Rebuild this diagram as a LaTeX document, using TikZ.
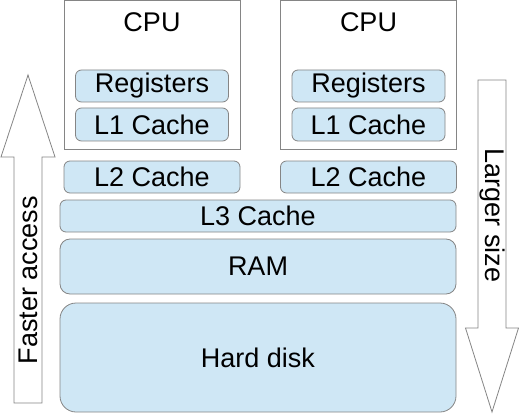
\documentclass[tikz,border=0pt]{standalone}
\usepackage{fontspec}
\setmainfont{Liberation Sans}
\usepackage{tikz}
\usetikzlibrary{positioning}
\definecolor{cachefill}{HTML}{CFE7F5}
\definecolor{edge}{HTML}{858585}
\definecolor{ink}{HTML}{000000}
\tikzset{
  level/.style  ={draw=edge, fill=cachefill, line width=0.8pt, rounded corners=6pt,
                  inner sep=0pt, outer sep=0pt, text=ink,
                  font=\fontsize{27}{30}\selectfont},
  cpubox/.style ={draw=edge, fill=white, line width=0.8pt, inner sep=0pt, outer sep=0pt,
                  minimum width=176pt, minimum height=149pt},
  bigarrow/.style={draw=edge, fill=white, line width=0.8pt, line join=miter},
  side/.style   ={font=\fontsize{27}{30}\selectfont, text=ink, inner sep=0pt}
}
\begin{document}
\begin{tikzpicture}[x=1pt, y=1pt]
  \useasboundingbox (0,0) rectangle (519,413);
  % the two cores
  \node[cpubox]                      (cpuA) at (152,338.5) {};
  \node[cpubox, right=40.5pt of cpuA] (cpuB) {};
  \node[side, below=12pt of cpuA.north] (cpuAname) {CPU};
  \node[side, below=12pt of cpuB.north] (cpuBname) {CPU};
  \node[level, minimum width=153pt, minimum height=32pt, below=70pt of cpuA.north] (regA) {Registers};
  \node[level, minimum width=153pt, minimum height=33pt, below=6pt of regA]         (l1A)  {L1 Cache};
  \node[level, minimum width=153pt, minimum height=32pt, below=70pt of cpuB.north] (regB) {Registers};
  \node[level, minimum width=153pt, minimum height=33pt, below=6pt of regB]         (l1B)  {L1 Cache};
  \node[level, minimum width=176pt, minimum height=32pt, below=12pt of cpuA]        (l2A)  {L2 Cache};
  \node[level, minimum width=176pt, minimum height=32pt, below=12pt of cpuB]        (l2B)  {L2 Cache};
  % shared levels
  \node[level, minimum width=396pt, minimum height=32pt] (l3) at (258,197) {L3 Cache};
  \node[level, minimum width=396pt, minimum height=55pt, rounded corners=10pt, below=7pt of l3]  (ram)  {RAM};
  \node[level, minimum width=396pt, minimum height=109pt, rounded corners=16pt, below=9pt of ram] (disk) {Hard disk};

  % side arrows
  \draw[bigarrow] (14,10) -- (14,256) -- (1,256) -- (28,338) -- (55,256) -- (42,256) -- (42,10) -- cycle;
  \node[side, rotate=90] (faster) at (28,133) {Faster access};
  \draw[bigarrow] (478,333) -- (478,85) -- (465.5,85) -- (492,1) -- (518.5,85) -- (506,85) -- (506,333) -- cycle;
  \node[side, rotate=-90] (larger) at (492,197.5) {Larger size};
\end{tikzpicture}
\end{document}
